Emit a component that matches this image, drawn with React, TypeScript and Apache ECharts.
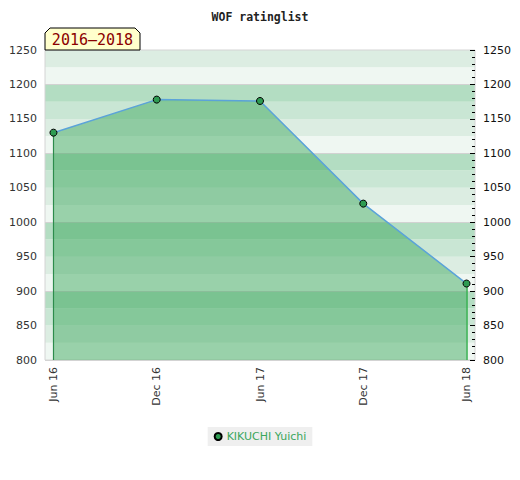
import React, { useEffect, useRef } from "react";
import * as echarts from "echarts";

const categories = ["Jun 16", "Dec 16", "Jun 17", "Dec 17", "Jun 18"];
const ratings = [1130, 1178, 1176, 1027, 911];
const seriesName = "KIKUCHI Yuichi";
const titleText = "WOF ratinglist";
const periodText = "2016\u20132018";
const yMin = 800;
const yMax = 1250;
const stripeColors = ["#eff7f2", "#dcede2", "#c9e6d4", "#b3ddc2"];

export default function App() {
  const ref = useRef<HTMLDivElement>(null);
  useEffect(() => {
    document.body.style.margin = "0";
    const chart = echarts.init(ref.current!, null, { renderer: "svg" });
    const n = categories.length;
    const pad = 0.082;
    const lastIdx = n - 1;
    const plain = (v: number) => String(v);
    chart.setOption({
      animation: false,
      title: {
        text: titleText,
        left: "center",
        top: 6,
        textStyle: { fontFamily: "DejaVu Sans Mono", fontWeight: "bold", fontSize: 11.5, color: "#222" },
      },
      grid: { left: 45, right: 45, top: 50, bottom: 120, show: true, borderColor: "#d4d4d4", borderWidth: 1, z: 3 },
      legend: {
        data: [seriesName],
        top: 427,
        left: "center",
        icon: "circle",
        itemWidth: 7,
        itemHeight: 7,
        backgroundColor: "#efefef",
        padding: [4, 6],
        textStyle: { color: "#3aa65c", fontSize: 11, fontFamily: "DejaVu Sans" },
      },
      xAxis: {
        type: "value",
        min: -pad,
        max: lastIdx + pad,
        axisLine: { show: false },
        axisTick: { show: false },
        splitLine: { show: false },
        axisLabel: {
          customValues: categories.map((_, i) => i),
          rotate: 90,
          margin: 7,
          fontSize: 11,
          fontFamily: "DejaVu Sans",
          color: "#333",
          formatter: (v: number) => categories[Math.round(v)] ?? "",
        },
      },
      yAxis: [
        {
          type: "value",
          min: yMin,
          max: yMax,
          interval: 25,
          position: "left",
          z: 0,
          axisLine: { show: false },
          axisTick: { show: false },
          axisLabel: { show: false },
          splitLine: { show: false },
          splitArea: { show: true, areaStyle: { color: stripeColors } },
        },
        {
          type: "value",
          min: yMin,
          max: yMax,
          interval: 50,
          position: "left",
          z: 1,
          axisLine: { show: false },
          axisTick: { show: false },
          axisLabel: { fontSize: 11, fontFamily: "DejaVu Sans", color: "#333", margin: 8, formatter: plain },
          splitLine: { show: true, lineStyle: { color: ["#d2d2d2", "rgba(0,0,0,0)"], width: 1 } },
        },
        {
          type: "value",
          min: yMin,
          max: yMax,
          interval: 50,
          position: "right",
          z: 4,
          axisLine: { show: false },
          axisTick: { show: true, inside: true, length: 5, lineStyle: { color: "#000" } },
          minorTick: { show: true, splitNumber: 5, length: 3, lineStyle: { color: "#000" } },
          axisLabel: { fontSize: 11, fontFamily: "DejaVu Sans", color: "#111", margin: 8, formatter: plain },
          splitLine: { show: false },
        },
      ],
      series: [
        {
          name: seriesName,
          type: "line",
          yAxisIndex: 1,
          data: ratings.map((v, i) => [i, v]),
          symbol: "circle",
          symbolSize: 7,
          itemStyle: { color: "#2e9b52", borderColor: "#000", borderWidth: 1 },
          lineStyle: { color: "#5ba3d9", width: 1.5 },
          areaStyle: { color: "rgba(57,166,90,0.47)", opacity: 1, origin: "start" },
          z: 5,
          markLine: {
            silent: true,
            symbol: "none",
            label: { show: false },
            lineStyle: { type: "solid" },
            data: [
              [
                { coord: [0, ratings[0]], lineStyle: { color: "#2a8548", width: 1.2, type: "solid" } },
                { coord: [0, yMin] },
              ],
              [
                { coord: [lastIdx, ratings[lastIdx]], lineStyle: { color: "#33b04c", width: 1.5, type: "solid" } },
                { coord: [lastIdx, yMin] },
              ],
            ],
          },
        },
      ],
      graphic: [
        {
          type: "polygon",
          z: 10,
          shape: { points: [[45, 50], [45, 33], [50, 28], [135, 28], [140, 33], [140, 50]] },
          style: { fill: "#ffffcc", stroke: "#000", lineWidth: 1 },
        },
        {
          type: "text",
          z: 11,
          x: 92.5,
          y: 40,
          style: {
            text: periodText,
            fill: "#8b0000",
            font: "15px 'DejaVu Sans Mono'",
            align: "center",
            verticalAlign: "middle",
          },
        },
      ],
    });
    return () => chart.dispose();
  }, []);
  return <div ref={ref} style={{ width: 520, height: 480 }} />;
}
